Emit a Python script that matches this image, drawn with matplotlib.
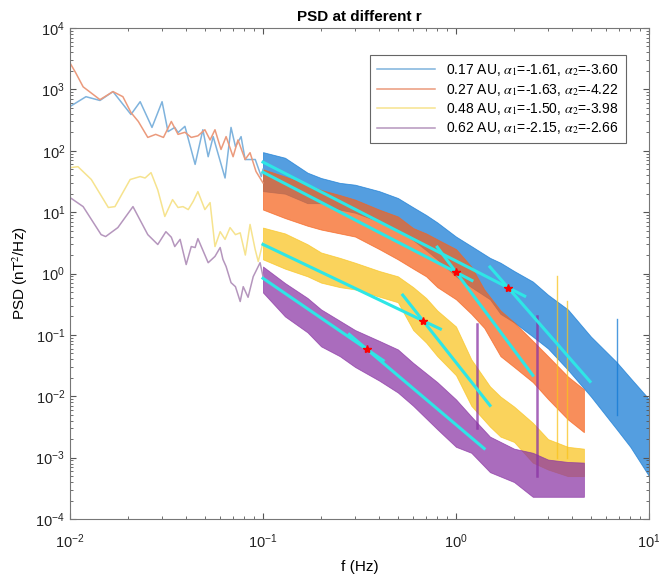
import numpy as np
import matplotlib.pyplot as plt

plt.rcParams['font.family'] = ['Liberation Sans', 'DejaVu Sans']
plt.rcParams['mathtext.fontset'] = 'stix'

labels = [r'0.17 AU, $\alpha_1$=-1.61, $\alpha_2$=-3.60',
          r'0.27 AU, $\alpha_1$=-1.63, $\alpha_2$=-4.22',
          r'0.48 AU, $\alpha_1$=-1.50, $\alpha_2$=-3.98',
          r'0.62 AU, $\alpha_1$=-2.15, $\alpha_2$=-2.66']
line_colors = ['#7fb3dd', '#eb9a7c', '#f6e38e', '#b596bd']
band_colors = ['#1279d4', '#f6621c', '#f9c31d', '#8a33a4']

# smooth low frequency part (f in Hz, PSD in nT^2/Hz)
f_low_017 = [0.01, 0.0121, 0.0143, 0.0167, 0.0207, 0.0231, 0.0266, 0.030, 0.0322, 0.0349, 0.0363,
             0.0394, 0.0445, 0.0488, 0.052, 0.0552, 0.0583, 0.0636, 0.0683, 0.072, 0.077, 0.0808,
             0.0912, 0.098, 0.1]
p_low_017 = [525, 760, 660, 920, 390, 630, 240, 630, 205, 240, 198,
             250, 60, 220, 80, 170, 93, 36, 240, 117, 170, 72,
             72, 38, 50]
f_low_027 = [0.01, 0.0107, 0.0117, 0.0143, 0.0167, 0.0188, 0.0207, 0.0226, 0.0253, 0.0278, 0.0305,
             0.0335, 0.0363, 0.0394, 0.0425, 0.046, 0.050, 0.0532, 0.0564, 0.0606, 0.0644, 0.070,
             0.0742, 0.0808, 0.0857, 0.092, 0.1]
p_low_027 = [2700, 1870, 1100, 680, 920, 760, 420, 300, 165, 185, 165,
             300, 185, 200, 165, 175, 220, 150, 220, 105, 170, 80,
             150, 72, 93, 46, 30]
f_low_048 = [0.01, 0.011, 0.0129, 0.0158, 0.0171, 0.0205, 0.0231, 0.0245, 0.0263, 0.0285, 0.031,
             0.034, 0.0363, 0.0385, 0.041, 0.0435, 0.046, 0.050, 0.0532, 0.0564, 0.060, 0.0636,
             0.0675, 0.072, 0.0762, 0.081, 0.0857, 0.091, 0.0945, 0.1]
p_low_048 = [53, 55, 34, 11.9, 12.3, 34, 38, 36, 44, 23, 8.5,
             16, 11.9, 12.3, 11, 15, 21.6, 11, 14.3, 2.75, 4.8, 3.6,
             5.6, 4.3, 4.6, 2.0, 6.3, 2.5, 1.57, 3.2]
f_low_062 = [0.01, 0.0117, 0.0145, 0.0153, 0.0177, 0.0212, 0.0253, 0.0285, 0.0314, 0.0335, 0.0349,
             0.0372, 0.040, 0.0425, 0.0445, 0.046, 0.052, 0.0564, 0.060, 0.062, 0.0644, 0.0683,
             0.072, 0.0762, 0.079, 0.0837, 0.089, 0.0966, 0.1]
p_low_062 = [17.3, 12.3, 4.3, 4.0, 5.6, 12.3, 4.3, 2.97, 4.8, 3.9, 2.75,
             3.6, 1.4, 2.75, 2.65, 3.7, 1.5, 1.9, 2.65, 1.7, 1.3, 0.71,
             0.61, 0.35, 0.61, 0.41, 0.89, 1.5, 0.9]

# noisy high frequency part: upper / lower envelope
f_band_017 = [0.1, 0.13, 0.17, 0.2, 0.25, 0.3, 0.4, 0.5, 0.6, 0.7, 0.8, 1.0, 1.2, 1.5, 1.7, 2.0,
              2.5, 3.0, 3.8, 5.0, 6.8, 8.0, 10]
top_017 = [95, 77, 44, 36, 30, 28, 22, 17, 12, 9, 6.8, 4.0, 2.8, 1.8, 1.5, 1.1,
           0.74, 0.45, 0.26, 0.094, 0.036, 0.02, 0.009]
bot_017 = [22, 20, 14, 14, 11, 9.8, 7, 5.2, 3.5, 2.4, 1.7, 0.9, 0.6, 0.38, 0.22, 0.16,
           0.094, 0.06, 0.027, 0.0099, 0.0029, 0.0015, 0.0005]
f_band_027 = [0.1, 0.13, 0.17, 0.2, 0.25, 0.3, 0.4, 0.5, 0.6, 0.7, 0.8, 1.0, 1.2, 1.4, 1.7, 2.0,
              2.5, 3.0, 3.8, 4.6]
top_027 = [50, 38, 28, 23, 19, 16, 11, 8.5, 5.5, 4.5, 3.6, 2.5, 1.3, 0.55, 0.25, 0.16,
           0.08, 0.045, 0.021, 0.013]
bot_027 = [11, 8, 6, 5.2, 4.5, 4.0, 2.5, 1.7, 1.2, 0.9, 0.6, 0.38, 0.22, 0.13, 0.045, 0.03,
           0.017, 0.009, 0.0042, 0.0026]
f_band_048 = [0.1, 0.13, 0.17, 0.2, 0.25, 0.3, 0.4, 0.5, 0.6, 0.7, 0.8, 1.0, 1.2, 1.5, 1.7, 2.0,
              2.5, 3.0, 3.8, 4.6]
top_048 = [5.6, 4.5, 3.0, 2.2, 1.8, 1.5, 1.1, 0.9, 0.6, 0.4, 0.25, 0.137, 0.04, 0.0145, 0.0099, 0.0068,
           0.0037, 0.002, 0.0015, 0.0014]
bot_048 = [1.7, 1.2, 0.9, 0.71, 0.6, 0.55, 0.42, 0.34, 0.12, 0.075, 0.045, 0.022, 0.007, 0.0032, 0.0022, 0.0018,
           0.00083, 0.00064, 0.0005, 0.0005]
f_band_062 = [0.1, 0.13, 0.17, 0.2, 0.25, 0.3, 0.4, 0.5, 0.6, 0.8, 1.0, 1.2, 1.5, 2.0, 2.5, 3.0,
              3.8, 4.6]
top_062 = [1.3, 0.7, 0.4, 0.26, 0.17, 0.12, 0.08, 0.058, 0.035, 0.017, 0.0089, 0.0047, 0.0022, 0.0014,
           0.0012, 0.00093, 0.00085, 0.00083]
bot_062 = [0.49, 0.2, 0.11, 0.065, 0.045, 0.03, 0.018, 0.0115, 0.007, 0.0029, 0.0015, 0.0012, 0.00058,
           0.0004, 0.00023, 0.00023, 0.00023, 0.00023]

# narrow spectral spikes: frequency, bottom, top, series index
spike_f = [6.8, 1.28, 2.63, 3.34, 3.76]
spike_lo = [0.005, 0.003, 0.0005, 0.001, 0.001]
spike_hi = [0.18, 0.15, 0.2, 0.9, 0.35]
spike_series = [0, 3, 3, 2, 2]

# two power-law fits per distance: break frequency / PSD and fitted ranges
alpha1 = [-1.61, -1.63, -1.50, -2.15]
alpha2 = [-3.60, -4.22, -3.98, -2.66]
f_break = [1.86, 1.0, 0.675, 0.346]
p_break = [0.59, 1.05, 0.17, 0.058]
fit1_range = [(0.1, 2.27), (0.1, 1.21), (0.1, 0.83), (0.1, 0.42)]
fit2_range = [(1.5, 4.95), (0.8, 2.5), (0.53, 1.5), (0.28, 1.4)]

f_low = [f_low_017, f_low_027, f_low_048, f_low_062]
p_low = [p_low_017, p_low_027, p_low_048, p_low_062]
f_band = [f_band_017, f_band_027, f_band_048, f_band_062]
tops = [top_017, top_027, top_048, top_062]
bots = [bot_017, bot_027, bot_048, bot_062]

fig = plt.figure(figsize=(6.59, 5.74), dpi=100)
ax = fig.add_axes([0.1062, 0.0958, 0.8786, 0.8554])

for i in range(4):
    ax.plot(f_low[i], p_low[i], color=line_colors[i], lw=1.1, label=labels[i])
    ax.fill_between(f_band[i], bots[i], tops[i], color=band_colors[i], alpha=0.72, lw=0.6,
                    edgecolor=band_colors[i])

spike_lw = [1.0, 1.8, 1.8, 1.0, 1.0]
for f, lo, hi, s, w in zip(spike_f, spike_lo, spike_hi, spike_series, spike_lw):
    ax.plot([f, f], [lo, hi], color=band_colors[s], lw=w, alpha=0.75)

for i in range(4):
    for rng, a in ((fit1_range[i], alpha1[i]), (fit2_range[i], alpha2[i])):
        ff = np.array(rng)
        ax.plot(ff, p_break[i] * (ff / f_break[i]) ** a, color='#2ee6e6', lw=2.2)
for i in range(4):
    ax.plot(f_break[i], p_break[i], marker='*', color='red', ms=6, ls='none')

ax.set_xscale('log')
ax.set_yscale('log')
ax.set_xlim(1e-2, 1e1)
ax.set_ylim(1e-4, 1e4)
ax.set_yticks([10.0 ** k for k in range(-4, 5)])
ax.set_xticks([1e-2, 1e-1, 1, 10])
ax.tick_params(which='both', direction='in', top=True, right=True, colors='#555555',
               labelcolor='#222222', labelsize=10.5)
ax.tick_params(axis='x', which='major', pad=10)
ax.tick_params(which='major', length=4)
ax.tick_params(which='minor', length=2)
for sp in ax.spines.values():
    sp.set_color('#777777')

ax.set_title('PSD at different r', fontsize=11, fontweight='bold', pad=5)
ax.set_xlabel('f (Hz)', fontsize=11, labelpad=6)
ax.set_ylabel(r'PSD (nT$^2$/Hz)', fontsize=11)

leg = ax.legend(loc='upper right', bbox_to_anchor=(0.972, 0.959), fontsize=10,
                handlelength=4.2, labelspacing=0.25, fancybox=False, framealpha=1,
                borderpad=0.5)
leg.get_frame().set_edgecolor('#666666')
leg.get_frame().set_linewidth(0.8)

fig.savefig('out.png', dpi=100)
